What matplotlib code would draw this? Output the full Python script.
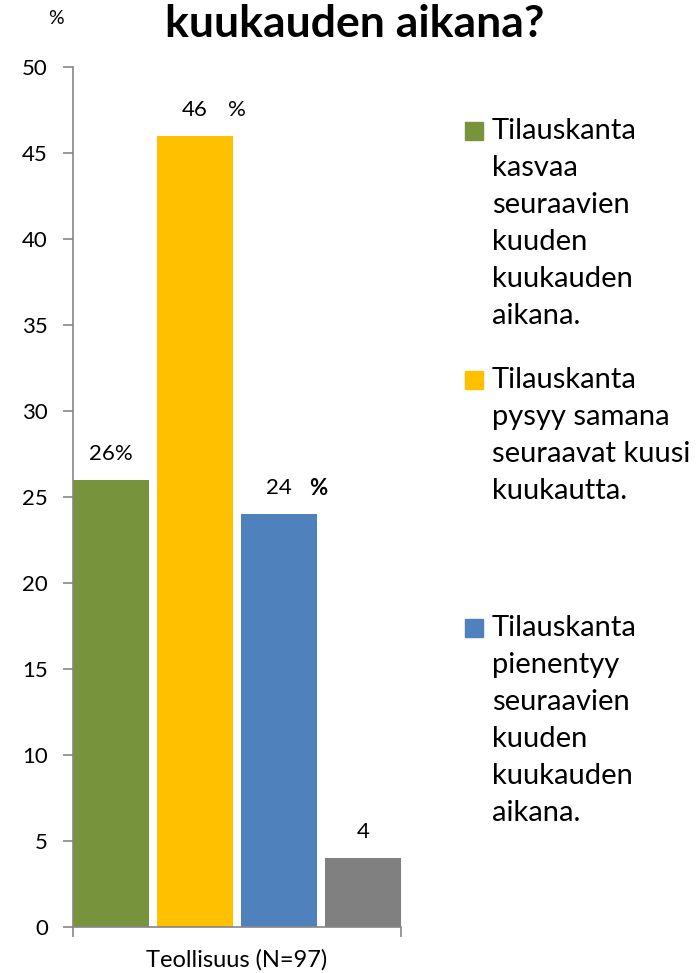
import matplotlib
matplotlib.use('Agg')
import matplotlib.pyplot as plt
from matplotlib.patches import Rectangle

plt.rcParams['font.family'] = ['Lato', 'DejaVu Sans']

# data
values = [26, 46, 24, 4]
colors = ['#77933C', '#FFC000', '#4F81BD', '#808080']
category = 'Teollisuus (N=97)'
legend_labels = [
    ['Tilauskanta', 'kasvaa', 'seuraavien', 'kuuden', 'kuukauden', 'aikana.'],
    ['Tilauskanta', 'pysyy samana', 'seuraavat kuusi', 'kuukautta.'],
    ['Tilauskanta', 'pienentyy', 'seuraavien', 'kuuden', 'kuukauden', 'aikana.'],
]
legend_colors = colors[:3]
yticks = [0, 5, 10, 15, 20, 25, 30, 35, 40, 45, 50]

W, H = 698, 973
fig = plt.figure(figsize=(W / 100, H / 100), dpi=100)
ax = fig.add_axes([73 / W, 1 - 927 / H, 328 / W, 860 / H])

w = 76 / 84
xs = range(len(values))
ax.bar(xs, values, width=w, color=colors)
ax.set_xlim(-w / 2, 3 + w / 2)
ax.set_ylim(0, 50)

# data labels (Excel-style, some with split '%')
off = 1.5
ax.text(0, values[0] + off, '26%', ha='center', va='center', fontsize=16)
ax.text(1.0, values[1] + off, '46', ha='center', va='center', fontsize=16)
ax.text(1.5, values[1] + off, '%', ha='center', va='center', fontsize=16)
ax.text(2.0, values[2] + off, '24', ha='center', va='center', fontsize=16)
ax.text(2.47, values[2] + off, '%', ha='center', va='center', fontsize=16, fontweight='bold')
ax.text(3, values[3] + off, '4', ha='center', va='center', fontsize=16)

for s in ['top', 'right']:
    ax.spines[s].set_visible(False)
for s in ['left', 'bottom']:
    ax.spines[s].set_color('#868686')
    ax.spines[s].set_linewidth(1.2)

ax.set_yticks(yticks)
ax.tick_params(axis='y', direction='out', length=7, width=1.2, color='#868686', labelsize=16, pad=11)
ax.set_xticks([-w / 2, 3 + w / 2])
ax.set_xticklabels(['', ''])
ax.tick_params(axis='x', direction='out', length=7, width=1.2, color='#868686')
ax.set_xticks([1.5], minor=True)
ax.set_xticklabels([category], minor=True)
ax.tick_params(axis='x', which='minor', length=0, labelsize=17, pad=16)

# title and unit
fig.text(355 / W, 1 - 24 / H, 'kuukauden aikana?', ha='center', va='center',
         fontsize=32, fontweight='bold')
fig.text(56 / W, 1 - 18 / H, '%', ha='center', va='center', fontsize=14)

# legend
starts = [131, 380, 628]
for lines, c, y0 in zip(legend_labels, legend_colors, starts):
    fig.patches.append(Rectangle((465 / W, 1 - (y0 + 9) / H), 18 / W, 18 / H,
                                 transform=fig.transFigure, color=c))
    for i, line in enumerate(lines):
        fig.text(492 / W, 1 - (y0 + 37 * i) / H, line, ha='left', va='center', fontsize=21)

fig.savefig('out.png', dpi=100, facecolor='white')
